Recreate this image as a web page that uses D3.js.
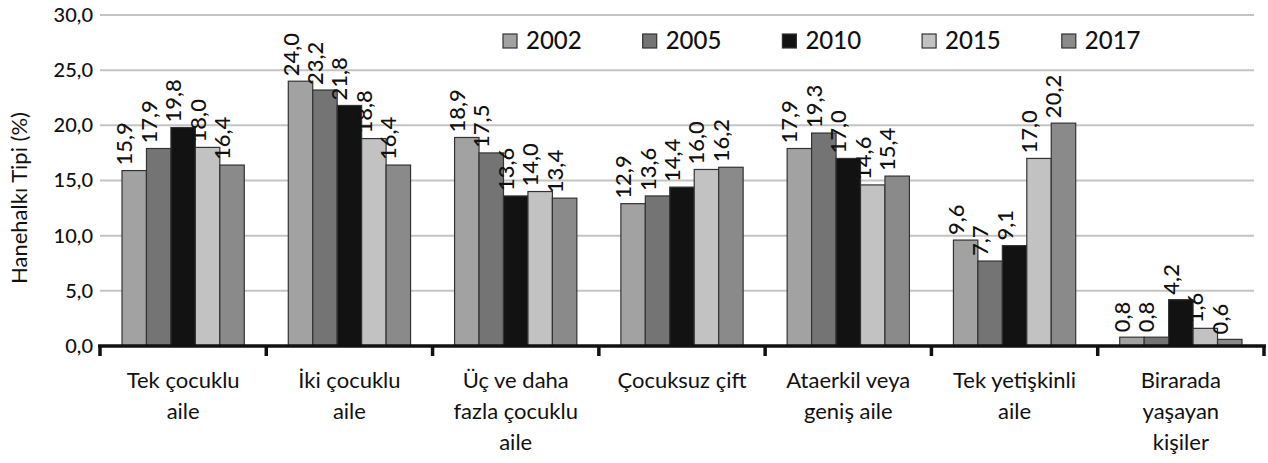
<!DOCTYPE html>
<html>
<head>
<meta charset="utf-8">
<script src="https://cdn.jsdelivr.net/npm/d3@7"></script>
<style>
  body { margin: 0; background: #fff; }
  text { font-family: Lato, "DejaVu Sans", sans-serif; fill: #111; }
</style>
</head>
<body>
<svg id="chart"></svg>
<script>
// Chart data
let categories = [
    ['Tek çocuklu', 'aile'],
    ['İki çocuklu', 'aile'],
    ['Üç ve daha', 'fazla çocuklu', 'aile'],
    ['Çocuksuz çift'],
    ['Ataerkil veya', 'geniş aile'],
    ['Tek yetişkinli', 'aile'],
    ['Birarada', 'yaşayan', 'kişiler']
];
let years = ['2002', '2005', '2010', '2015', '2017'];
let values2002 = [15.9, 24.0, 18.9, 12.9, 17.9, 9.6, 0.8];
let values2005 = [17.9, 23.2, 17.5, 13.6, 19.3, 7.7, 0.8];
let values2010 = [19.8, 21.8, 13.6, 14.4, 17.0, 9.1, 4.2];
let values2015 = [18.0, 18.8, 14.0, 16.0, 14.6, 17.0, 1.6];
let values2017 = [16.4, 16.4, 13.4, 16.2, 15.4, 20.2, 0.6];
let yTicks = [0, 5, 10, 15, 20, 25, 30];
let yTitle = 'Hanehalkı Tipi (%)';

let series = [values2002, values2005, values2010, values2015, values2017];
let colors = ['#a2a2a2', '#747474', '#121212', '#c2c2c2', '#8a8a8a'];

// SVG Dimensions
let width = 1268, height = 463;
let svg = d3.select('#chart').attr('width', width).attr('height', height);

let catKeys = categories.map((c) => c.join(' '));

let x0 = d3.scaleBand().domain(catKeys).range([100, 1264]).padding(0);
let x1 = d3.scaleBand().domain(years).range([0, x0.bandwidth()])
    .paddingInner(0).paddingOuter(0.9);
let y = d3.scaleLinear().domain([0, 30]).range([346, 15]);

let fmt = (v) => d3.format('.1f')(v).replace('.', ',');

// Gridlines
svg.append('g')
    .selectAll('line')
    .data(yTicks.filter((t) => t > 0))
    .enter()
    .append('line')
    .attr('x1', 100)
    .attr('x2', 1254)
    .attr('y1', (d) => y(d))
    .attr('y2', (d) => y(d))
    .attr('stroke', '#c4c4c4')
    .attr('stroke-width', 2);

// Y axis labels
let yAxis = d3.axisLeft(y).tickValues(yTicks).tickSize(0).tickPadding(0)
    .tickFormat((d) => fmt(d));
svg.append('g')
    .attr('transform', 'translate(93,0)')
    .call(yAxis)
    .call((g) => g.select('.domain').remove())
    .selectAll('text')
    .attr('font-size', 20)
    .attr('font-weight', 500)
    .attr('font-family', 'Lato, sans-serif')
    .attr('fill', '#111');

// Y title
svg.append('text')
    .attr('transform', 'translate(27,198) rotate(-90)')
    .attr('text-anchor', 'middle')
    .attr('font-size', 22)
    .text(yTitle);

// Bars
let groups = svg.append('g')
    .selectAll('g')
    .data(catKeys)
    .enter()
    .append('g')
    .attr('transform', (d) => 'translate(' + x0(d) + ',0)');

groups.selectAll('rect')
    .data((d, i) => years.map((yr, j) => ({ year: yr, value: series[j][i], color: colors[j] })))
    .enter()
    .append('rect')
    .attr('x', (d) => x1(d.year))
    .attr('width', x1.bandwidth())
    .attr('y', (d) => y(d.value))
    .attr('height', (d) => y(0) - y(d.value))
    .attr('fill', (d) => d.color)
    .attr('stroke', '#333')
    .attr('stroke-width', 1.2);

// Value labels
groups.selectAll('text.val')
    .data((d, i) => years.map((yr, j) => ({ year: yr, value: series[j][i] })))
    .enter()
    .append('text')
    .attr('class', 'val')
    .attr('transform', (d) => 'translate(' + (x1(d.year) + x1.bandwidth() / 2 - 2) + ',' + (y(d.value) - 5) + ') rotate(-90)')
    .attr('font-size', 22)
    .attr('font-weight', 500)
    .text((d) => fmt(d.value));

// X axis line and ticks
svg.append('line')
    .attr('x1', 98).attr('x2', 1266)
    .attr('y1', y(0)).attr('y2', y(0))
    .attr('stroke', '#111').attr('stroke-width', 3.5);

let bounds = catKeys.map((d) => x0(d)).concat([x0.range()[1]]);
svg.append('g')
    .selectAll('line')
    .data(bounds)
    .enter()
    .append('line')
    .attr('x1', (d) => d).attr('x2', (d) => d)
    .attr('y1', y(0)).attr('y2', y(0) + 10)
    .attr('stroke', '#111').attr('stroke-width', 3.5);

// Category labels
let catText = svg.append('g')
    .selectAll('text')
    .data(categories)
    .enter()
    .append('text')
    .attr('text-anchor', 'middle')
    .attr('font-size', 22)
    .attr('x', (d, i) => x0(catKeys[i]) + x0.bandwidth() / 2)
    .attr('y', 388);

catText.selectAll('tspan')
    .data((d) => d)
    .enter()
    .append('tspan')
    .attr('x', function () { return d3.select(this.parentNode).attr('x'); })
    .attr('dy', (d, i) => i === 0 ? 0 : 31)
    .text((d) => d);

// Legend
let legend = svg.append('g')
    .selectAll('g')
    .data(years)
    .enter()
    .append('g')
    .attr('transform', (d, i) => 'translate(' + (503 + i * 139.7) + ',34)');

legend.append('rect')
    .attr('width', 14).attr('height', 14)
    .attr('fill', (d, i) => colors[i])
    .attr('stroke', '#333').attr('stroke-width', 1.2);

legend.append('text')
    .attr('x', 23)
    .attr('y', 15)
    .attr('font-size', 24)
    .attr('font-weight', 500)
    .text((d) => d);
</script>
</body>
</html>
